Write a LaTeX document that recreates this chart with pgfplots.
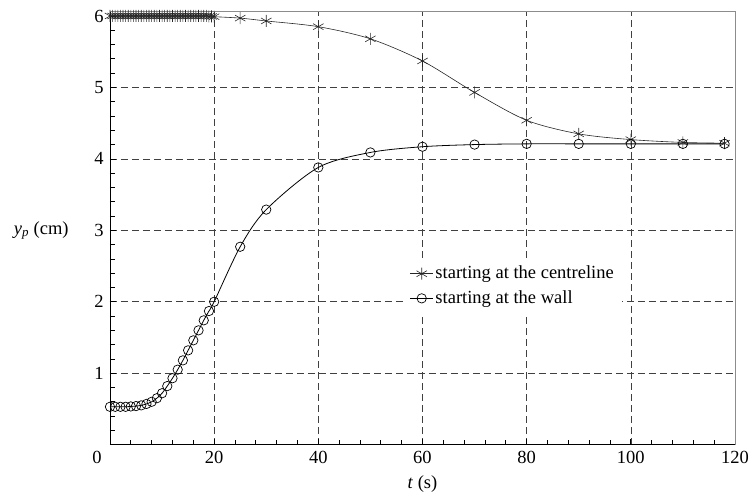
\documentclass[border=0pt]{standalone}
\usepackage{fontspec}
\setmainfont{LiberationSerif}[Extension=.ttf, UprightFont=*-Regular, ItalicFont=*-Italic, BoldFont=*-Bold, BoldItalicFont=*-BoldItalic]
\usepackage{pgfplots}
\pgfplotsset{compat=1.18}
\usepackage{pgfplotstable}

% position of the particle, started at the centreline
\pgfplotstableread{
t    y
0    6.00
0.5  6.00
1    6.00
1.5  6.00
2    6.00
2.5  6.00
3    6.00
3.5  6.00
4    6.00
4.5  6.00
5    6.00
5.5  6.00
6    6.00
6.5  6.00
7    6.00
7.5  6.00
8    6.00
8.5  6.00
9    6.00
9.5  6.00
10   6.00
10.5 6.00
11   6.00
11.5 6.00
12   6.00
12.5 6.00
13   6.00
13.5 6.00
14   6.00
14.5 6.00
15   6.00
15.5 6.00
16   6.00
16.5 6.00
17   6.00
17.5 6.00
18   6.00
18.5 6.00
19   5.995
19.5 5.993
20   5.99
25   5.97
30   5.93
40   5.85
50   5.68
60   5.37
70   4.93
80   4.54
90   4.35
100  4.27
110  4.23
118  4.22
}\centre

% started at the wall
\pgfplotstableread{
t   y
0   0.53
1   0.53
2   0.53
3   0.53
4   0.535
5   0.54
6   0.55
7   0.57
8   0.60
9   0.65
10  0.72
11  0.82
12  0.93
13  1.05
14  1.18
15  1.32
16  1.46
17  1.60
18  1.74
19  1.87
20  2.00
25  2.77
30  3.29
40  3.88
50  4.09
60  4.17
70  4.20
80  4.21
90  4.21
100 4.21
110 4.21
118 4.21
}\wall

\begin{document}
\fontsize{18.5}{22}\selectfont
\begin{tikzpicture}
\begin{axis}[
    scale only axis,
    width=625pt, height=433pt,
    xmin=0, xmax=120, ymin=0, ymax=6.06,
    axis lines*=left,
    axis line style={line width=0.8pt},
    tick align=inside,
    major tick length=6pt, minor tick length=5pt,
    tick style={black, line width=0.7pt},
    xtick={20,40,...,120},
    extra x ticks={0},
    extra x tick style={grid=none, xticklabel style={xshift=-13pt}},
    minor xtick={4,8,12,16,24,28,32,36,44,48,52,56,64,68,72,76,84,88,92,96,104,108,112,116},
    ytick={1,2,3,4,5},
    extra y ticks={6},
    extra y tick style={grid=none},
    minor ytick={0.2,0.4,0.6,0.8,1.2,1.4,1.6,1.8,2.2,2.4,2.6,2.8,3.2,3.4,3.6,3.8,4.2,4.4,4.6,4.8,5.2,5.4,5.6,5.8},
    /pgf/number format/assume math mode=true,
    xmajorgrids, ymajorgrids,
    grid style={black!75, line width=0.6pt, dash pattern=on 7pt off 4pt},
    xlabel={\textit{t} (s)},
    every axis y label/.style={at={(axis description cs:-0.056,0.495)}, anchor=east},
    ylabel={\textit{y}\textsubscript{\textit{p}} (cm)},
    legend style={at={(axis cs:56.4,2.22)}, anchor=west, draw=none, fill=white,
      inner xsep=6pt, inner ysep=6pt, row sep=5pt},
    legend cell align=left,
    legend image code/.code={\draw[mark repeat=2,mark phase=2] plot coordinates {(0cm,0cm) (0.4cm,0cm) (0.8cm,0cm)};},
    clip=false,
  ]
\addplot[black!85, line width=0.6pt, smooth, mark=asterisk, mark size=6pt,
  mark options={solid, line width=0.6pt}] table[x=t, y=y] {\centre};
\addlegendentry{starting at the centreline}
\addplot[black, line width=0.8pt, smooth, mark=o, mark size=4.7pt,
  mark options={solid, line width=0.7pt}] table[x=t, y=y] {\wall};
\addlegendentry{starting at the wall}
\draw[black!45, line width=0.9pt] (axis description cs:0,1) -- (axis description cs:1,1) -- (axis description cs:1,0);
\path (axis description cs:-0.176,-0.12) rectangle (axis description cs:1.032,1.027);
\end{axis}
\end{tikzpicture}
\end{document}
